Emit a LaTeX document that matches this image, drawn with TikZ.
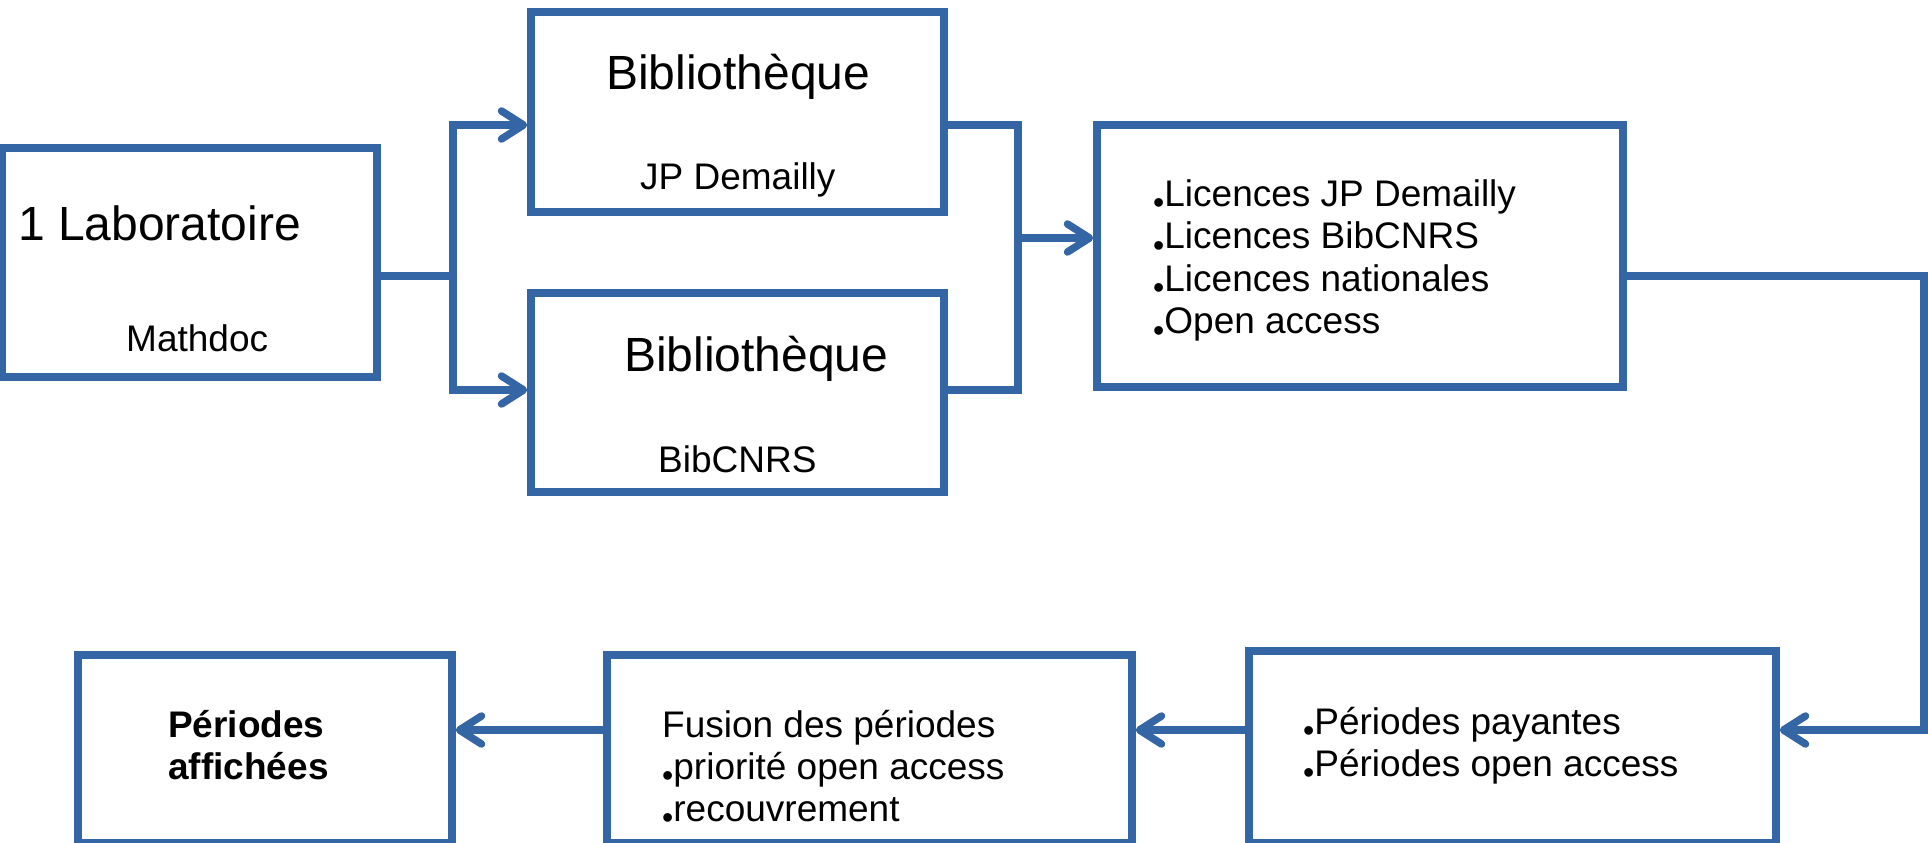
\documentclass[tikz,border=0pt]{standalone}
\usepackage{fontspec}
\setmainfont{Liberation Sans}
\usetikzlibrary{arrows.meta}
\definecolor{boxblue}{HTML}{3465A4}
\newcommand{\bul}{\raisebox{-7.5pt}{\fontsize{32}{32}\selectfont •}}
\begin{document}
\begin{tikzpicture}[x=1pt,y=-1pt,
  box/.style={draw=boxblue, line width=7.5pt, rectangle, inner sep=0pt},
  conn/.style={draw=boxblue, line width=7.5pt},
  arr/.style={conn, -{Straight Barb[length=22pt,width=28pt,round]}},
  big/.style={anchor=base west, inner sep=0pt, font=\fontsize{48}{56}\selectfont},
  small/.style={anchor=base west, inner sep=0pt, font=\fontsize{37}{44}\selectfont},
  smallb/.style={small, font=\fontsize{37}{44}\selectfont\bfseries},
]
\useasboundingbox (0,0) rectangle (1928,843);

% boxes
\node[box, minimum width=375pt, minimum height=229pt] (lab) at (189.5,262.5) {};
\node[box, minimum width=413pt, minimum height=200pt] (bib1) at (737.5,112) {};
\node[box, minimum width=413pt, minimum height=199pt] (bib2) at (737.5,392.5) {};
\node[box, minimum width=526pt, minimum height=262pt] (lic) at (1360,256) {};
\node[box, minimum width=374pt, minimum height=188pt] (aff) at (265,749) {};
\node[box, minimum width=525pt, minimum height=188pt] (fus) at (869.5,749) {};
\node[box, minimum width=527pt, minimum height=192pt] (pay) at (1512.5,747) {};

% texts
\node[big]   (t1) at (18,240)  {1 Laboratoire};
\node[small] (t2) at (126,351) {Mathdoc};
\node[big]   (t3) at (606,89)  {Bibliothèque};
\node[small] (t4) at (640,189) {JP Demailly};
\node[big]   (t5) at (624,371) {Bibliothèque};
\node[small] (t6) at (658,472) {BibCNRS};

\node[small] (l1) at (1153,206) {\bul Licences JP Demailly};
\node[small] (l2) at (1153,248.5) {\bul Licences BibCNRS};
\node[small] (l3) at (1153,291) {\bul Licences nationales};
\node[small] (l4) at (1153,333.5) {\bul Open access};

\node[smallb] (a1) at (168,737) {Périodes};
\node[smallb] (a2) at (168,779) {affichées};

\node[small] (f1) at (662,737) {Fusion des périodes};
\node[small] (f2) at (662,779) {\bul priorité open access};
\node[small] (f3) at (662,821) {\bul recouvrement};

\node[small] (p1) at (1303,734) {\bul Périodes payantes};
\node[small] (p2) at (1303,776) {\bul Périodes open access};

% connectors
\coordinate (jl) at (453,276);
\coordinate (ja) at (453,125);
\coordinate (jb) at (453,390);
\draw[conn] (lab.east |- jl) -- (jl);
\draw[arr] (jl) -- (ja) -- (ja -| bib1.west);
\draw[arr] (jl) -- (jb) -- (jb -| bib2.west);

\coordinate (jr1) at (1018,125);
\coordinate (jr2) at (1018,390);
\coordinate (jr) at (1018,238);
\draw[conn] (bib1.east |- jr1) -- (jr1) -- (jr2) -- (bib2.east |- jr2);
\draw[arr] (jr) -- (jr -| lic.west);

\coordinate (k1) at (1924,276);
\coordinate (k2) at (1924,730);
\draw[arr] (lic.east |- k1) -- (k1) -- (k2) -- (k2 -| pay.east);
\draw[arr] (k2 -| pay.west) -- (k2 -| fus.east);
\draw[arr] (k2 -| fus.west) -- (k2 -| aff.east);
\end{tikzpicture}
\end{document}
